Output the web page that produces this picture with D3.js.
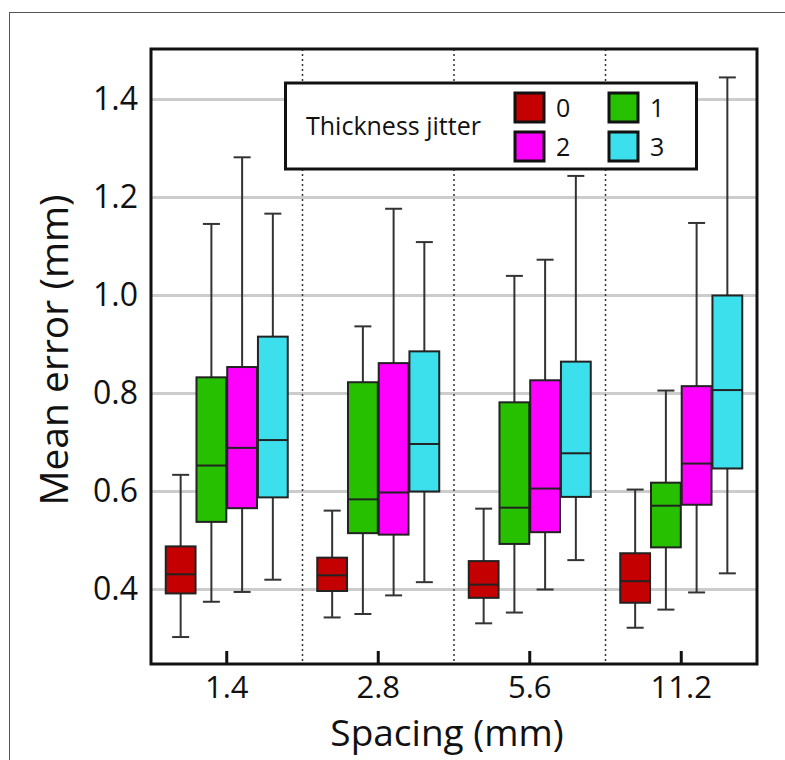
<!DOCTYPE html>
<meta charset="utf-8">
<head>
<title>Mean error boxplots</title>
<script src="https://d3js.org/d3.v7.min.js"></script>
<style>
  body { margin: 0; background: #fff; }
  text { font-family: "Open Sans", "Noto Sans", sans-serif; fill: #111; }
</style>
</head>
<body>
<div id="chart"></div>
<script>
    let w = 785;
    let h = 760;

    // spacing groups and jitter levels
    let spacings = ["1.4", "2.8", "5.6", "11.2"];
    let jitters = ["0", "1", "2", "3"];
    let colors = ["#c40000", "#26c000", "#ff00ff", "#3ce0ec"];
    let yTicks = [0.4, 0.6, 0.8, 1.0, 1.2, 1.4];

    // [whisker low, q1, median, q3, whisker high] per jitter, for each spacing
    let s14  = [[0.303, 0.392, 0.431, 0.488, 0.634],
                [0.375, 0.538, 0.653, 0.833, 1.146],
                [0.395, 0.566, 0.689, 0.854, 1.282],
                [0.420, 0.588, 0.705, 0.916, 1.167]];
    let s28  = [[0.343, 0.397, 0.429, 0.465, 0.561],
                [0.350, 0.515, 0.584, 0.823, 0.937],
                [0.388, 0.512, 0.598, 0.862, 1.177],
                [0.415, 0.600, 0.697, 0.886, 1.109]];
    let s56  = [[0.331, 0.383, 0.410, 0.458, 0.565],
                [0.353, 0.493, 0.567, 0.782, 1.040],
                [0.400, 0.517, 0.606, 0.827, 1.073],
                [0.460, 0.589, 0.678, 0.865, 1.244]];
    let s112 = [[0.322, 0.373, 0.417, 0.474, 0.604],
                [0.359, 0.486, 0.571, 0.618, 0.806],
                [0.394, 0.573, 0.657, 0.815, 1.148],
                [0.433, 0.647, 0.807, 1.000, 1.445]];
    let stats = [s14, s28, s56, s112];

    let pLeft = 151, pRight = 757, pTop = 49, pBottom = 664;

    let svg = d3.select("#chart")
                .append("svg")
                .attr("width", w)
                .attr("height", h);

    // thin outer frame
    svg.append("rect")
       .attr("x", 9.5).attr("y", 12.5)
       .attr("width", w).attr("height", h)
       .style("fill", "none")
       .style("stroke", "#555")
       .style("stroke-width", 1);

    let x = d3.scaleBand().domain(spacings).range([pLeft, pRight]);
    let inner = d3.scaleBand().domain(jitters).range([-61, 61]).paddingInner(0.03);
    let y = d3.scaleLinear().domain([0.248, 1.503]).range([pBottom, pTop]);

    // grid
    svg.selectAll(".grid")
       .data(yTicks)
       .enter()
       .append("line")
       .attr("x1", pLeft).attr("x2", pRight)
       .attr("y1", (d) => y(d)).attr("y2", (d) => y(d))
       .style("stroke", "#cccccc")
       .style("stroke-width", 3);

    // dotted separators between groups
    svg.selectAll(".sep")
       .data(spacings.slice(1))
       .enter()
       .append("line")
       .attr("x1", (d) => x(d)).attr("x2", (d) => x(d))
       .attr("y1", pTop).attr("y2", pBottom)
       .style("stroke", "#333")
       .style("stroke-width", 1.5)
       .style("stroke-dasharray", "2,3");

    let cap = 17;
    let boxes = [];
    stats.forEach((grp, i) => {
        grp.forEach((s, j) => {
            boxes.push({ sp: spacings[i], j: jitters[j], color: colors[j], s: s });
        });
    });

    let g = svg.selectAll(".box")
               .data(boxes)
               .enter()
               .append("g")
               .attr("transform", (d) => "translate(" + (x(d.sp) + x.bandwidth() / 2 + inner(d.j) + inner.bandwidth() / 2) + ",0)");

    // whisker line
    g.append("line")
     .attr("x1", 0).attr("x2", 0)
     .attr("y1", (d) => y(d.s[0])).attr("y2", (d) => y(d.s[4]))
     .style("stroke", "#333").style("stroke-width", 2);

    // caps
    g.selectAll(".cap")
     .data((d) => [d.s[0], d.s[4]])
     .enter()
     .append("line")
     .attr("x1", -cap / 2).attr("x2", cap / 2)
     .attr("y1", (d) => y(d)).attr("y2", (d) => y(d))
     .style("stroke", "#333").style("stroke-width", 2);

    // box
    g.append("rect")
     .attr("x", -inner.bandwidth() / 2)
     .attr("width", inner.bandwidth())
     .attr("y", (d) => y(d.s[3]))
     .attr("height", (d) => y(d.s[1]) - y(d.s[3]))
     .style("fill", (d) => d.color)
     .style("stroke", "#222").style("stroke-width", 2);

    // median
    g.append("line")
     .attr("x1", -inner.bandwidth() / 2).attr("x2", inner.bandwidth() / 2)
     .attr("y1", (d) => y(d.s[2])).attr("y2", (d) => y(d.s[2]))
     .style("stroke", "#222").style("stroke-width", 2);

    // axes
    let yAxis = d3.axisLeft(y).tickValues(yTicks).tickFormat(d3.format(".1f")).tickSize(0).tickPadding(13);
    let yg = svg.append("g").attr("transform", "translate(" + pLeft + ",0)").call(yAxis);
    yg.select(".domain").remove();
    yg.selectAll("text").style("font-size", "32px").style("font-family", "'Open Sans', sans-serif").attr("fill", "#111");

    let xAxis = d3.axisBottom(x).tickSize(0).tickPadding(12);
    let xg = svg.append("g").attr("transform", "translate(0," + pBottom + ")").call(xAxis);
    xg.select(".domain").remove();
    xg.selectAll("text").style("font-size", "31px").style("font-family", "'Open Sans', sans-serif").attr("fill", "#111");

    // inward ticks on the x axis
    svg.selectAll(".xtick")
       .data(spacings)
       .enter()
       .append("line")
       .attr("x1", (d) => x(d) + x.bandwidth() / 2).attr("x2", (d) => x(d) + x.bandwidth() / 2)
       .attr("y1", pBottom).attr("y2", pBottom - 13)
       .style("stroke", "#111").style("stroke-width", 3);

    // plot frame
    svg.append("rect")
       .attr("x", pLeft).attr("y", pTop)
       .attr("width", pRight - pLeft).attr("height", pBottom - pTop)
       .style("fill", "none")
       .style("stroke", "#111")
       .style("stroke-width", 3);

    // axis titles
    svg.append("text")
       .attr("x", 447)
       .attr("y", 746)
       .attr("text-anchor", "middle")
       .style("font-size", "37px")
       .text("Spacing (mm)");

    svg.append("text")
       .attr("transform", "translate(68,350) rotate(-90)")
       .attr("text-anchor", "middle")
       .style("font-size", "39px")
       .text("Mean error (mm)");

    // legend
    let lg = svg.append("g");
    lg.append("rect")
      .attr("x", 285.5).attr("y", 83)
      .attr("width", 411).attr("height", 86)
      .style("fill", "white")
      .style("stroke", "#111")
      .style("stroke-width", 3);

    lg.append("text")
      .attr("x", 306).attr("y", 135)
      .style("font-size", "25px")
      .text("Thickness jitter");

    let legItems = jitters.map((d, i) => ({ label: d, color: colors[i], col: i % 2, row: Math.floor(i / 2) }));
    let li = lg.selectAll(".li")
               .data(legItems)
               .enter()
               .append("g")
               .attr("transform", (d) => "translate(" + (515 + d.col * 94) + "," + (93 + d.row * 39) + ")");
    li.append("rect")
      .attr("width", 29).attr("height", 29)
      .style("fill", (d) => d.color)
      .style("stroke", "#111")
      .style("stroke-width", 3);
    li.append("text")
      .attr("x", 41).attr("y", 24)
      .style("font-size", "25px")
      .text((d) => d.label);
</script>
</body>
